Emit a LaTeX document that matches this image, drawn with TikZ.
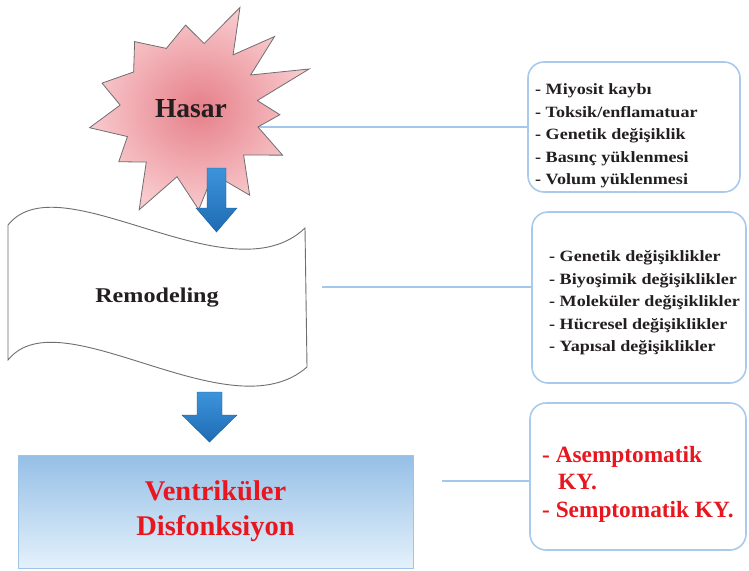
\documentclass[tikz,border=0pt]{standalone}
\usepackage{fontspec}
\setmainfont{Liberation Serif}
\newfontfamily\widefont[FakeStretch=1.15]{Liberation Serif}

\definecolor{textblack}{HTML}{231F20}
\definecolor{alertred}{HTML}{E8161E}
\definecolor{linkblue}{HTML}{A3C7EA}
\definecolor{boxedge}{HTML}{A9CAEB}
\definecolor{starin}{HTML}{E67F89}
\definecolor{starout}{HTML}{F8CACD}
\definecolor{staredge}{HTML}{6F6F70}
\definecolor{arrowtop}{HTML}{3D94DA}
\definecolor{arrowbot}{HTML}{1E6BB4}
\definecolor{vdtop}{HTML}{95BFE6}
\definecolor{vdbot}{HTML}{E4F1FB}
\definecolor{vdedge}{HTML}{A2C4E4}
\definecolor{banneredge}{HTML}{6D6E71}

\begin{document}
\begin{tikzpicture}[x=1pt,y=-1pt,
  infobox/.style={draw=boxedge, line width=1.6pt, fill=white, rounded corners=16pt},
  listtext/.style={anchor=west, align=left, inner sep=0pt, text=textblack,
    font=\widefont\bfseries\fontsize{15.7}{22.5}\selectfont},
  redlist/.style={anchor=west, align=left, inner sep=0pt, text=alertred,
    font=\bfseries\fontsize{23.3}{27.5}\selectfont},
  link/.style={draw=linkblue, line width=1.3pt},
  blockarrow/.style={top color=arrowtop, bottom color=arrowbot, draw=arrowbot!85!black, line width=0.4pt},
  starshape/.style={inner color=starin, outer color=starout, draw=staredge, line width=0.8pt},
  banner/.style={fill=white, draw=banneredge, line width=0.9pt},
  vdbox/.style={top color=vdtop, bottom color=vdbot, draw=vdedge, line width=0.8pt,
    align=center, text=alertred, font=\bfseries\fontsize{28.5}{35}\selectfont},
]
\useasboundingbox (0,0) rectangle (749,570);

% info boxes on the right
\node[infobox, minimum width=212pt, minimum height=130pt] (causes) at (634,127) {};
\node[infobox, minimum width=214pt, minimum height=171pt] (changes) at (639,297.5) {};
\node[infobox, minimum width=216pt, minimum height=147pt] (outcomes) at (638,476.5) {};

\node[listtext] (causestxt) at (535,136) {- Miyosit kaybı\\- Toksik/enflamatuar\\- Genetik değişiklik\\- Basınç yüklenmesi\\- Volum yüklenmesi};
\node[listtext] (changestxt) at (549,303) {- Genetik değişiklikler\\- Biyoşimik değişiklikler\\- Moleküler değişiklikler\\- Hücresel değişiklikler\\- Yapısal değişiklikler};
\node[redlist] (outcomestxt) at (542,484) {- Asemptomatik\\\hspace*{16pt}KY.\\- Semptomatik KY.};

% connectors to the info boxes
\coordinate (hasarlink) at (240,127);
\coordinate (remodlink) at (322,287);
\coordinate (vdlink) at (442,481);
\draw[link] (hasarlink) -- (causes.west);
\draw[link] (remodlink) -- (remodlink -| changes.west);
\draw[link] (vdlink) -- (vdlink -| outcomes.west);

% injury burst
\begin{scope}[shift={(190,110)}]
  \path[starshape] (-64:114) -- (-52:70) -- (-41:112) -- (-30:70) -- (-19:126) -- (-8:68)
    -- (3:90) -- (14:70) -- (26:103) -- (40:70) -- (55:104) -- (70:68) -- (85:100)
    -- (101:68) -- (117:112) -- (130:68) -- (144:88) -- (157:68) -- (170:102)
    -- (184:70) -- (197:92) -- (214:68) -- (231:88) -- (249:66) -- (267:85) -- (282:68) -- cycle;
\end{scope}
\node[text=textblack, font=\bfseries\fontsize{27.5}{30}\selectfont] (hasar) at (191,108.7) {Hasar};

% remodeling banner
\path[banner] (8,225) .. controls (60,160) and (230,300) .. (305,228) -- (307,367)
  .. controls (230,435) and (60,295) .. (8,360) -- cycle;
\node[text=textblack, font=\widefont\bfseries\fontsize{21}{24}\selectfont] (remod) at (157,298) {Remodeling};

% downward block arrows
\path[blockarrow] (207,168) -- (226,168) -- (226,208) -- (237,208) -- (216.5,232) -- (196,208) -- (207,208) -- cycle;
\path[blockarrow] (197,392) -- (222,392) -- (222,415) -- (237,415) -- (209.5,442) -- (182,415) -- (197,415) -- cycle;

% ventricular dysfunction box
\node[vdbox, minimum width=395pt, minimum height=113pt] (vd) at (215.5,511.5) {Ventriküler\\Disfonksiyon};
\end{tikzpicture}
\end{document}
